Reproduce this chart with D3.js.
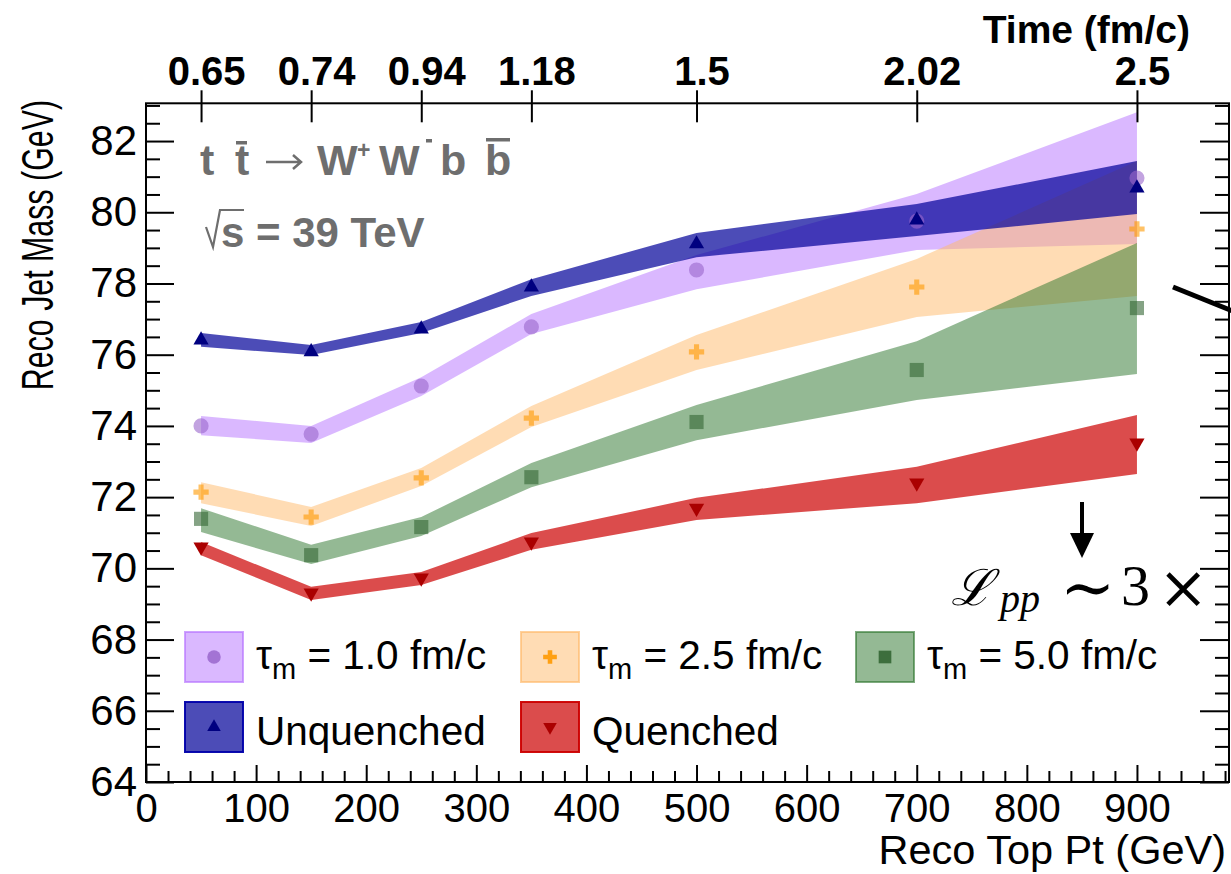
<!DOCTYPE html>
<html><head><meta charset="utf-8">
<script src="https://cdn.jsdelivr.net/npm/d3@7"></script>
<style>body{margin:0;background:#fff}svg{display:block}</style>
</head><body>
<svg id="c" width="1231" height="874"></svg>
<script>
// ---------------- data ----------------
const ptBins = [50, 150, 250, 350, 500, 700, 900];
const timeLabels = ["0.65", "0.74", "0.94", "1.18", "1.5", "2.02", "2.5"];
const xMajorTicks = [0, 100, 200, 300, 400, 500, 600, 700, 800, 900];
const yMajorTicks = [64, 66, 68, 70, 72, 74, 76, 78, 80, 82];

const tau1Val = [74.00, 73.77, 75.12, 76.78, 78.38, 79.75, 80.96];
const tau1Lo  = [73.74, 73.52, 74.84, 76.58, 77.84, 78.94, 79.11];
const tau1Hi  = [74.28, 74.00, 75.37, 77.14, 78.80, 80.51, 82.81];

const tau25Val = [72.14, 71.44, 72.54, 74.22, 76.08, 77.90, 79.53];
const tau25Lo  = [71.83, 71.19, 72.31, 73.97, 75.57, 77.06, 77.65];
const tau25Hi  = [72.42, 71.72, 72.82, 74.56, 76.55, 78.69, 81.44];

const tau5Val = [71.39, 70.37, 71.16, 72.56, 74.11, 75.57, 77.31];
const tau5Lo  = [71.02, 70.12, 70.91, 72.28, 73.60, 74.73, 75.46];
const tau5Hi  = [71.69, 70.66, 71.44, 72.96, 74.59, 76.38, 79.14];

const unqVal = [76.41, 76.08, 76.72, 77.90, 79.11, 79.78, 80.68];
const unqLo  = [76.22, 75.99, 76.61, 77.65, 78.74, 79.33, 79.95];
const unqHi  = [76.61, 76.27, 76.92, 78.12, 79.42, 80.23, 81.44];

const qVal = [70.60, 69.31, 69.73, 70.74, 71.69, 72.40, 73.52];
const qLo  = [70.37, 69.11, 69.53, 70.52, 71.36, 71.83, 72.65];
const qHi  = [70.74, 69.48, 69.90, 70.99, 71.98, 72.85, 74.31];

// ---------------- setup ----------------
const SANS = "'Liberation Sans', Arial, Helvetica, sans-serif";
const svg = d3.select("#c");
const X = d3.scaleLinear().domain([0, 983.6]).range([146, 1229]);
const Y = d3.scaleLinear().domain([64, 83.06]).range([782, 103.3]);

const series = [
  {name:"tau1", label:"1.0", val:tau1Val, lo:tau1Lo, hi:tau1Hi,
   band:"rgba(181,113,255,0.5)", edge:"rgba(181,113,255,0.65)", mk:"rgba(153,102,204,0.6)", lmk:"rgba(153,102,204,0.85)", sym:d3.symbolCircle, size:180, rot:0},
  {name:"tau25", label:"2.5", val:tau25Val, lo:tau25Lo, hi:tau25Hi,
   band:"rgba(255,185,105,0.5)", edge:"rgba(255,185,105,0.65)", mk:"rgba(255,153,0,0.6)", lmk:"rgba(255,153,0,0.9)", sym:d3.symbolCross, size:130, rot:0},
  {name:"tau5", label:"5.0", val:tau5Val, lo:tau5Lo, hi:tau5Hi,
   band:"rgba(41,115,41,0.5)", edge:"rgba(41,115,41,0.6)", mk:"rgba(51,102,51,0.6)", lmk:"rgba(51,102,51,0.9)", sym:d3.symbolSquare, size:200, rot:0},
  {name:"unq", label:"Unquenched", val:unqVal, lo:unqLo, hi:unqHi,
   band:"rgba(0,0,153,0.7)", edge:"rgba(0,0,170,0.95)", mk:"#000080", lmk:"#000080", sym:d3.symbolTriangle, size:100, rot:0},
  {name:"q", label:"Quenched", val:qVal, lo:qLo, hi:qHi,
   band:"rgba(204,0,0,0.7)", edge:"rgba(204,0,0,0.95)", mk:"#aa0000", lmk:"#aa0000", sym:d3.symbolTriangle, size:100, rot:180}
];

// ---------------- bands ----------------
const area = d3.area().x(d => X(d.pt)).y0(d => Y(d.lo)).y1(d => Y(d.hi));
const gBands = svg.append("g");
series.forEach(s => {
  const rows = ptBins.map((pt, i) => ({pt, lo: s.lo[i], hi: s.hi[i]}));
  gBands.append("path").datum(rows).attr("d", area).attr("fill", s.band);
});

// ---------------- markers ----------------
const gMk = svg.append("g");
series.forEach(s => {
  const rows = ptBins.map((pt, i) => ({pt, v: s.val[i]}));
  gMk.selectAll(null).data(rows).join("path")
    .attr("d", d3.symbol().type(s.sym).size(s.size))
    .attr("transform", d => `translate(${X(d.pt)},${Y(d.v)}) rotate(${s.rot})`)
    .attr("fill", s.mk);
});

// ---------------- axes ----------------
function styleAxis(g, fs) {
  g.select(".domain").remove();
  g.selectAll(".tick line").attr("stroke", "#000").attr("stroke-width", 2);
  g.selectAll(".tick text").attr("font-family", SANS).attr("font-size", fs).attr("fill", "#000");
}
const xMinor = d3.range(0, 984, 20).filter(v => v % 100 !== 0);
const yMinor = d3.range(64, 83.06, 0.5).filter(v => v % 2 !== 0);

// bottom
const gB = svg.append("g").attr("transform", "translate(0,782)");
gB.call(d3.axisBottom(X).tickValues(xMajorTicks).tickSizeInner(-17).tickSizeOuter(0).tickPadding(12).tickFormat(d3.format("d")));
styleAxis(gB, 40);
const gBm = svg.append("g").attr("transform", "translate(0,782)");
gBm.call(d3.axisBottom(X).tickValues(xMinor).tickSizeInner(-11).tickSizeOuter(0).tickFormat(""));
styleAxis(gBm, 10);

// left
const gL = svg.append("g").attr("transform", "translate(146,0)");
gL.call(d3.axisLeft(Y).tickValues(yMajorTicks).tickSizeInner(-28).tickSizeOuter(0).tickPadding(9).tickFormat(d3.format("d")));
styleAxis(gL, 42);
const gLm = svg.append("g").attr("transform", "translate(146,0)");
gLm.call(d3.axisLeft(Y).tickValues(yMinor).tickSizeInner(-14).tickSizeOuter(0).tickFormat(""));
styleAxis(gLm, 10);

// right
const gR = svg.append("g").attr("transform", "translate(1229,0)");
gR.call(d3.axisRight(Y).tickValues(yMajorTicks).tickSizeInner(-29).tickSizeOuter(0).tickFormat(""));
styleAxis(gR, 10);
const gRm = svg.append("g").attr("transform", "translate(1229,0)");
gRm.call(d3.axisRight(Y).tickValues(yMinor).tickSizeInner(-14).tickSizeOuter(0).tickFormat(""));
styleAxis(gRm, 10);

// top (time)
const gT = svg.append("g").attr("transform", "translate(0,103.3)");
gT.call(d3.axisTop(X).tickValues(ptBins).tickSizeInner(13).tickSizeOuter(0).tickPadding(5)
  .tickFormat((d, i) => timeLabels[i]));
styleAxis(gT, 40);
gT.selectAll(".tick text").attr("font-weight", "bold").attr("dx", 5);
const gT2 = svg.append("g").attr("transform", "translate(0,103.3)");
gT2.call(d3.axisTop(X).tickValues(ptBins).tickSizeInner(-19).tickSizeOuter(0).tickFormat(""));
styleAxis(gT2, 10);

// frame
svg.append("rect").attr("x", 146).attr("y", 103.3).attr("width", 1083).attr("height", 678.7)
  .attr("fill", "none").attr("stroke", "#000").attr("stroke-width", 2);

// titles
svg.append("text").attr("x", 1190).attr("y", 43).attr("text-anchor", "end")
  .attr("font-family", SANS).attr("font-weight", "bold").attr("font-size", 39).text("Time (fm/c)");
svg.append("text").attr("x", 1226).attr("y", 864).attr("text-anchor", "end")
  .attr("font-family", SANS).attr("font-size", 41.5).text("Reco Top Pt (GeV)");
svg.append("text").attr("transform", "translate(53,100) rotate(-90) scale(0.69,1)").attr("text-anchor", "end")
  .attr("font-family", SANS).attr("font-size", 44).text("Reco Jet Mass (GeV)");

// ---------------- annotation (process) ----------------
const GRAY = "#6e6e6e";
const ga = svg.append("g").attr("fill", GRAY).attr("font-family", SANS).attr("font-weight", "bold");
function at(x, y, s, fs) { return ga.append("text").attr("x", x).attr("y", y).attr("font-size", fs || 43).text(s); }
at(200, 175, "t");
at(235, 175, "t");
ga.append("rect").attr("x", 236).attr("y", 141).attr("width", 11).attr("height", 3.5);
ga.append("path").attr("d", "M266,162 H301 M293,155 L301,162 L293,169").attr("fill", "none")
  .attr("stroke", GRAY).attr("stroke-width", 2.5);
at(317, 175, "W");
at(357, 158, "+", 23);
at(379, 175, "W");
ga.append("rect").attr("x", 426).attr("y", 139).attr("width", 6).attr("height", 3.5);
at(440, 175, "b");
at(485, 175, "b");
ga.append("rect").attr("x", 486).attr("y", 138).attr("width", 24).attr("height", 3.5);

ga.append("path").attr("d", "M206,227 L213,247 L220,210 L244,210").attr("fill", "none")
  .attr("stroke", GRAY).attr("stroke-width", 2.2);
at(221, 247, "s = 39 TeV", 42);

// ---------------- legend ----------------
const legCols = [185, 521, 856], legRows = [632, 702];
const legPos = [[0,0],[1,0],[2,0],[0,1],[1,1]];
const gLeg = svg.append("g");
series.forEach((s, i) => {
  const bx = legCols[legPos[i][0]], by = legRows[legPos[i][1]];
  gLeg.append("rect").attr("x", bx).attr("y", by).attr("width", 58).attr("height", 50)
    .attr("fill", s.band).attr("stroke", s.edge).attr("stroke-width", 2);
  gLeg.append("path").attr("d", d3.symbol().type(s.sym).size(s.size * 0.8))
    .attr("transform", `translate(${bx + 29},${by + 25}) rotate(${s.rot})`).attr("fill", s.lmk);
  const tx = bx + 71, ty = by + (legPos[i][1] === 0 ? 37 : 43);
  const t = gLeg.append("text").attr("x", tx).attr("y", ty).attr("font-family", SANS).attr("font-size", 40.5);
  if (i < 3) {
    t.append("tspan").text("τ");
    t.append("tspan").attr("font-size", 29).attr("dy", 10).text("m");
    t.append("tspan").attr("dy", -10).text(` = ${s.label} fm/c`);
  } else {
    t.text(s.label);
  }
});

// ---------------- luminosity note ----------------
const gn = svg.append("g");
gn.append("line").attr("x1", 1082).attr("y1", 502).attr("x2", 1082).attr("y2", 537)
  .attr("stroke", "#000").attr("stroke-width", 4);
gn.append("path").attr("d", "M1070,533 L1094,533 L1082,558 Z").attr("fill", "#000");
gn.append("text").attr("x", 951).attr("y", 605).attr("font-family", "'DejaVu Serif', serif")
  .attr("font-style", "italic").attr("font-size", 50).text("ℒ");
gn.append("text").attr("x", 1000).attr("y", 612).attr("font-family", "'Liberation Serif', serif")
  .attr("font-style", "italic").attr("font-size", 40).text("pp");
gn.append("text").attr("x", 1060).attr("y", 610).attr("font-family", "'DejaVu Serif', serif")
  .attr("font-size", 66).text("∼");
gn.append("text").attr("x", 1121).attr("y", 605).attr("font-family", "'Liberation Serif', serif")
  .attr("font-size", 58).text("3");
gn.append("text").attr("x", 1158).attr("y", 608).attr("font-family", "'DejaVu Serif', serif")
  .attr("font-size", 60).text("×");
gn.append("line").attr("x1", 1173).attr("y1", 287).attr("x2", 1245).attr("y2", 316)
  .attr("stroke", "#000").attr("stroke-width", 5);
</script>
</body></html>
